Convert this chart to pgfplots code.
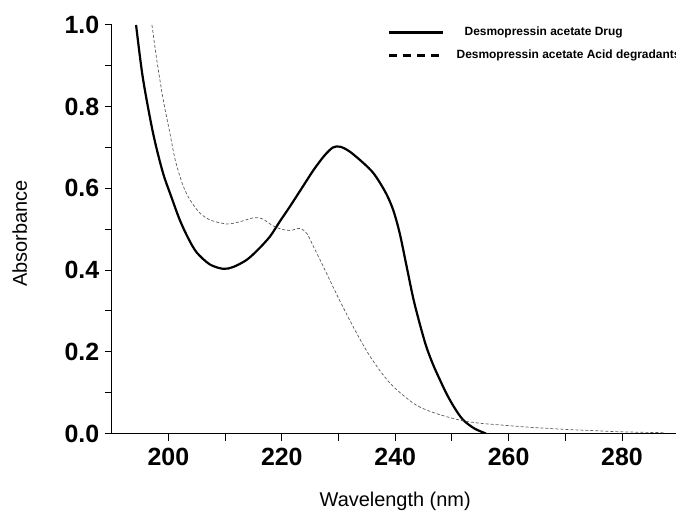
\documentclass[border=0pt]{standalone}
\usepackage{fontspec}
\setmainfont{Liberation Sans}
\usepackage{pgfplots}
\pgfplotsset{compat=1.18}
\definecolor{dashgray}{RGB}{90,90,90}

\pgfplotstableread{
x y
194.3 1.000
195.5 0.870
197.3 0.735
199.0 0.640
200.5 0.580
202.0 0.523
203.5 0.478
205.0 0.443
207.3 0.414
209.7 0.403
211.5 0.408
213.8 0.425
215.8 0.450
217.9 0.482
219.6 0.518
221.4 0.555
223.5 0.600
225.6 0.645
227.5 0.680
229.0 0.700
230.3 0.702
232.0 0.690
234.4 0.662
236.0 0.640
237.3 0.614
238.6 0.582
239.7 0.545
240.8 0.490
242.0 0.410
243.2 0.330
244.4 0.265
245.5 0.212
246.7 0.168
247.9 0.131
249.1 0.096
250.5 0.062
252.0 0.033
254.0 0.012
256.0 0.000
}\drugdata

\pgfplotstableread{
x y
197.1 1.000
198.0 0.910
199.1 0.816
200.2 0.740
201.2 0.670
202.5 0.610
203.8 0.572
205.6 0.539
207.5 0.522
210.3 0.513
212.5 0.518
215.0 0.528
216.5 0.526
218.5 0.508
220.0 0.500
221.5 0.497
223.2 0.502
224.4 0.490
225.5 0.460
227.0 0.418
229.7 0.340
232.6 0.261
235.6 0.188
239.1 0.123
243.2 0.074
246.0 0.055
249.1 0.041
252.0 0.031
255.0 0.025
258.5 0.021
264.0 0.015
270.2 0.010
275.0 0.007
280.2 0.004
287.3 0.002
}\aciddata

\begin{document}
\begin{tikzpicture}
\begin{axis}[
  scale only axis, width=567bp, height=408.5bp,
  at={(0,0)}, anchor=south west,
  xmin=190, xmax=290, ymin=0, ymax=1,
  axis x line*=bottom, axis y line*=left,
  axis line style={line width=1.1bp},
  xtick={200,220,...,280}, minor x tick num=1,
  ytick={0,0.2,...,1.0}, minor y tick num=1,
  tick align=outside, major tick length=7bp, minor tick length=7bp,
  tick style={line width=1bp, black},
  yticklabel={\pgfmathprintnumber[fixed,fixed zerofill,precision=1]{\tick}},
  /pgf/number format/assume math mode=true,
  tick label style={font=\bfseries\fontsize{25}{29}\selectfont},
  yticklabel style={xshift=-2bp},
  xticklabel style={yshift=-4bp},
  xlabel={Wavelength (nm)}, ylabel={Absorbance},
  label style={font=\fontsize{20}{24}\selectfont},
  xlabel style={at={(axis description cs:0.5,-0.1775)}, anchor=base},
  ylabel style={at={(axis description cs:-0.1494,0.49)}, anchor=base, rotate=0},
  legend image code/.code={\draw[#1] (0bp,0bp) -- (54bp,0bp);},
  legend cell align=left,
  legend style={draw=none, fill=none, inner sep=0pt,
    at={(axis cs:238.7,1.0)}, anchor=north west,
    font=\bfseries\fontsize{12}{14}\selectfont,
    row sep=9bp, column sep=10bp},
]
\addplot[black, line width=2.2bp, smooth, tension=0.5, forget plot] table {\drugdata};
\addplot[dashgray, line width=0.7bp, dash pattern=on 3bp off 2bp, smooth, tension=0.5, forget plot] table {\aciddata};
\addlegendimage{black, line width=2.6bp}
\addlegendentry{\hspace*{8bp}Desmopressin acetate Drug}
\addlegendimage{black, line width=2.6bp, dash pattern=on 8bp off 6bp}
\addlegendentry{Desmopressin acetate Acid degradants}
\end{axis}
\pgfresetboundingbox
\path[use as bounding box] (-111.7bp,-77.5bp) rectangle (564.3bp,433.5bp);
\end{tikzpicture}
\end{document}
